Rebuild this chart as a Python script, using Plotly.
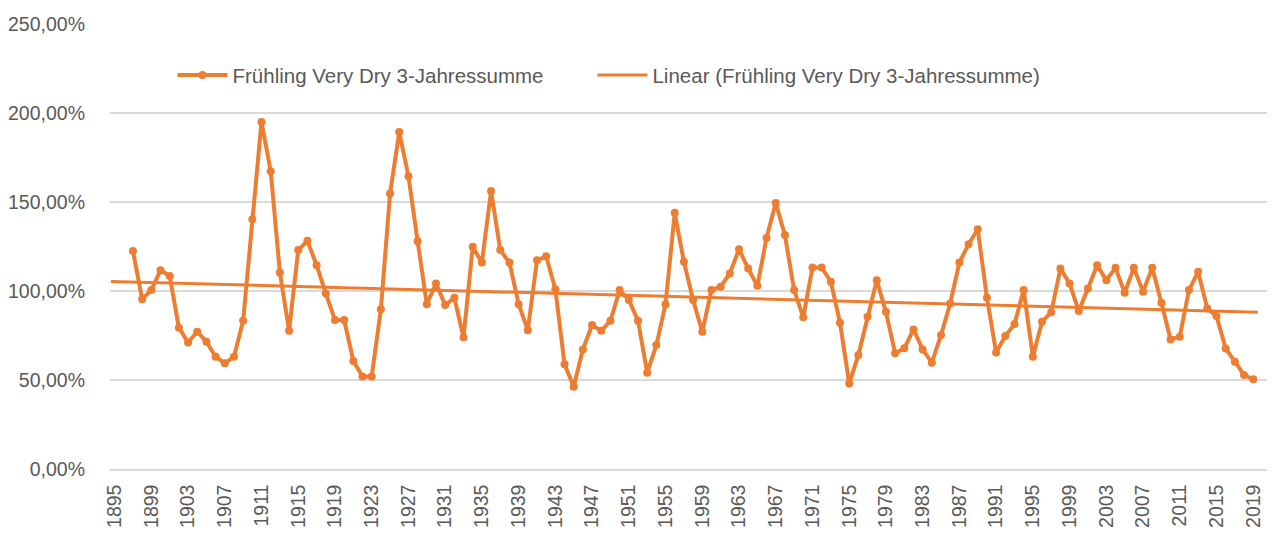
import numpy as np
import plotly.graph_objects as go

years = list(range(1897, 2020))
values_pct = [
    122.5, 95.4, 100.5, 111.7, 108.4, 79.4, 71.1, 77.1, 71.5, 63.1,
    59.4, 63.1, 83.3, 140.3, 195.0, 167.3, 110.4, 77.7, 123.0, 128.2,
    114.5, 98.6, 83.7, 83.7, 60.7, 51.9, 51.9, 89.7, 154.8, 189.3,
    164.5, 128.0, 92.6, 104.2, 92.1, 96.2, 74.0, 124.8, 116.0, 156.2,
    123.0, 116.0, 92.6, 78.0, 117.3, 119.5, 101.0, 58.8, 46.2, 67.2,
    80.9, 77.6, 83.3, 100.5, 95.0, 83.3, 54.1, 69.6, 92.6, 143.9,
    116.4, 94.9, 77.1, 100.5, 102.4, 109.9, 123.5, 112.6, 102.9, 129.8,
    149.5, 131.4, 100.5, 85.2, 113.2, 113.2, 105.2, 82.2, 48.1, 64.0,
    85.5, 106.1, 88.3, 65.0, 67.8, 78.4, 67.2, 59.7, 75.3, 93.0,
    116.0, 126.3, 134.7, 96.2, 65.5, 74.7, 81.4, 100.5, 63.1, 82.7,
    88.0, 112.6, 104.2, 88.7, 101.4, 114.5, 106.1, 113.0, 99.0, 113.0,
    99.6, 113.0, 93.4, 72.8, 74.3, 100.5, 110.8, 90.2, 85.9, 67.7,
    60.3, 52.8, 50.4,
]
tick_years = list(range(1895, 2020, 4))
y_ticks_pct = [0, 50, 100, 150, 200, 250]

series_name = "Frühling Very Dry 3-Jahressumme"
trend_name = "Linear (Frühling Very Dry 3-Jahressumme)"

color = "#ED7D31"
x_min, x_max = 1894.5, 2020.5

vals = np.array(values_pct) / 100.0
slope, intercept = np.polyfit(np.array(years, dtype=float), vals, 1)
trend_x = [x_min + 0.1, x_max - 1.0]
trend_y = [slope * x + intercept for x in trend_x]

fig = go.Figure()
fig.add_trace(go.Scatter(
    x=years, y=vals, mode="lines+markers", name=series_name,
    line=dict(color=color, width=4),
    marker=dict(color=color, size=8),
    legend="legend",
))
fig.add_trace(go.Scatter(
    x=trend_x, y=trend_y, mode="lines", name=trend_name,
    line=dict(color=color, width=3),
    legend="legend2",
))

font_family = "Liberation Sans, Arial, sans-serif"
legend_common = dict(
    orientation="h", y=0.885, xanchor="left", yanchor="middle",
    font=dict(size=20.5, color="#595959"),
    itemwidth=50,
    bgcolor="rgba(255,255,255,0)",
)
fig.update_layout(
    width=1277, height=534,
    margin=dict(l=102, r=18, t=16, b=73, autoexpand=False),
    paper_bgcolor="white", plot_bgcolor="white",
    separators=",.",
    font=dict(family=font_family, size=19, color="#595959"),
    showlegend=True,
    legend=dict(x=0.054, **legend_common),
    legend2=dict(x=0.417, **legend_common),
    xaxis=dict(
        range=[x_min, x_max], tickmode="array", tickvals=tick_years,
        ticktext=[str(y) for y in tick_years], tickangle=-90,
        showgrid=False, zeroline=False, showline=True, linecolor="#D9D9D9",
        linewidth=1.5, ticks="", ticklabelstandoff=6, automargin=False,
        tickfont=dict(size=19.5, color="#595959"),
    ),
    yaxis=dict(
        range=[0, 2.5], tickmode="array", tickvals=[v / 100 for v in y_ticks_pct],
        tickformat=".2%", showgrid=True, gridcolor="#D9D9D9", gridwidth=1.5,
        zeroline=False, showline=False, ticks="", ticklabelstandoff=24,
        automargin=False,
        tickfont=dict(size=19.5, color="#595959"),
    ),
)

fig.write_html("out.html")
